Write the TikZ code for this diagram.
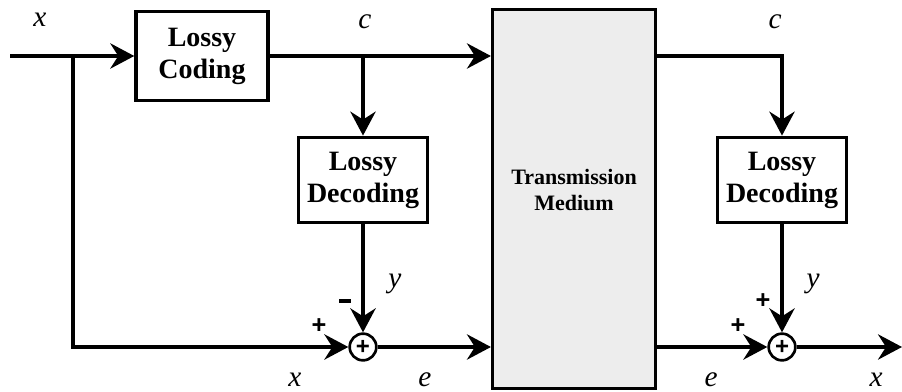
\documentclass[tikz,border=0pt]{standalone}
\usepackage{fontspec}
\setmainfont{Liberation Serif}
\newfontfamily\signfont{Liberation Sans}
\usetikzlibrary{arrows.meta}
\begin{document}
\begin{tikzpicture}[x=0.75pt,y=-0.75pt,
    blk/.style={draw, line width=2.6pt, align=center, font=\fontsize{21}{24}\selectfont\bfseries, inner sep=0pt},
    sum/.style={draw, circle, line width=2pt, minimum size=20pt, inner sep=0pt, font=\signfont\fontsize{18}{18}\selectfont\bfseries},
    sig/.style={line width=2.5pt, -{Stealth[length=18pt, width=19pt, inset=6pt]}},
    lbl/.style={font=\fontsize{22}{22}\selectfont\itshape},
    sgn/.style={font=\signfont\fontsize{19}{19}\selectfont\bfseries}]
  \useasboundingbox (0,0) rectangle (902,392);
  % blocks
  \node[blk, minimum width=99pt, minimum height=67pt] (coding) at (202,56) {Lossy\\Coding};
  \node[blk, minimum width=97pt, minimum height=64pt] (decL) at (363,180) {Lossy\\Decoding};
  \node[blk, minimum width=97pt, minimum height=64pt] (decR) at (782,180) {Lossy\\Decoding};
  \node[blk, fill=gray!14, minimum width=122pt, minimum height=284pt] (medium) at (574,199) {};
  \node[font=\fontsize{16.5}{20}\selectfont\bfseries, align=center] (mtxt) at (574,190) {Transmission\\Medium};
  \node[sum] (sumL) at (363,347) {+};
  \node[sum] (sumR) at (782,347) {+};
  \coordinate (in) at (10,56);
  \coordinate (brA) at (73,56);
  \coordinate (out) at (902,347);
  % signals
  \draw[sig] (in) -- (coding.west);
  \draw[sig] (coding.east) -- (medium.west |- coding.east);
  \draw[sig] (coding.east -| decL.north) -- (decL.north);
  \draw[sig] (brA) |- (sumL.west);
  \draw[sig] (decL.south) -- (sumL.north);
  \draw[sig] (sumL.east) -- (medium.west |- sumL.east);
  \draw[sig] (medium.east |- coding.east) -| (decR.north);
  \draw[sig] (decR.south) -- (sumR.north);
  \draw[sig] (medium.east |- sumR.west) -- (sumR.west);
  \draw[sig] (sumR.east) -- (out);
  % labels
  \node[lbl] (lx1) at (40,20) {x};
  \node[lbl] (lc1) at (365,22) {c};
  \node[lbl] (lc2) at (775,22) {c};
  \node[lbl] (ly1) at (395,284) {y};
  \node[lbl] (ly2) at (813,284) {y};
  \node[lbl] (lx2) at (295,380) {x};
  \node[lbl] (le1) at (425,380) {e};
  \node[lbl] (le2) at (711,380) {e};
  \node[lbl] (lx3) at (876,380) {x};
  \node[sgn] (pL1) at (319,326) {+};
  \node (mL) at (345,301) {\rule{9pt}{3pt}};
  \node[sgn] (pR1) at (738,326) {+};
  \node[sgn] (pR2) at (763,301) {+};
\end{tikzpicture}
\end{document}
